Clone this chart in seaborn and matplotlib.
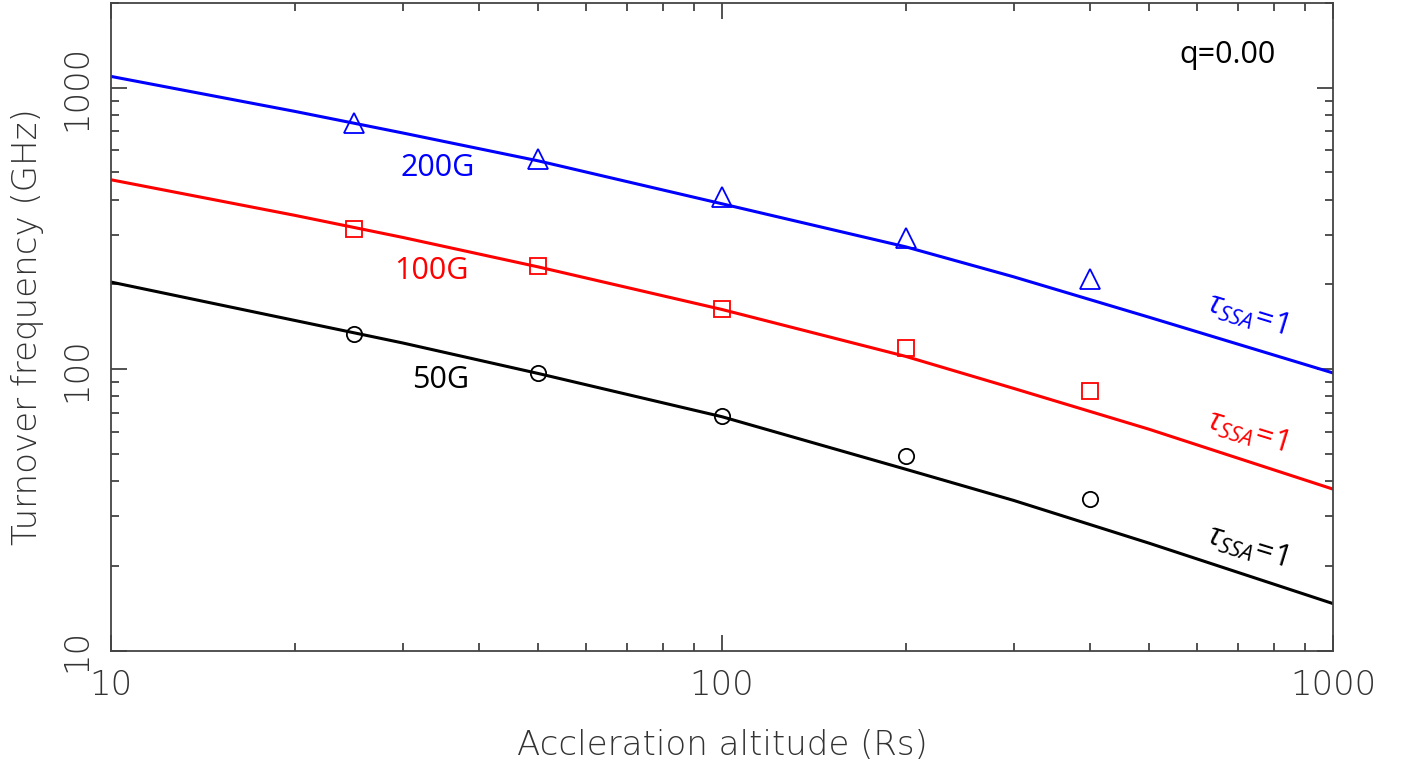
import numpy as np
import pandas as pd
import matplotlib
matplotlib.use("Agg")
import matplotlib.pyplot as plt
import matplotlib.ticker as mticker
import seaborn as sns

# ---- data ----
x_line = [10, 20, 30, 50, 100, 200, 300, 500, 1000]
line_200G = [1097, 824, 691, 550, 387, 272, 213, 153, 97]
line_100G = [471, 352, 294, 231, 163, 111, 85.5, 61.2, 37.5]
line_50G = [204, 149, 124, 96.6, 67.8, 44.1, 34.2, 24.1, 14.7]

x_pts = [25, 50, 100, 200, 400]
pts_200G = [752, 560, 408, 293, 210]
pts_100G = [315, 232, 164, 119, 84]
pts_50G = [133, 97.3, 68.1, 49.2, 34.6]

field_labels = ["200G", "100G", "50G"]
colors = ["#0000FF", "#FF0000", "#000000"]
markers = ["^", "s", "o"]
tick_vals = [10, 100, 1000]
tick_labels = ["10", "100", "1000"]

sns.set_style("ticks")
plt.rcParams["font.family"] = ["DejaVu Sans"]
plt.rcParams["mathtext.fontset"] = "custom"
plt.rcParams["mathtext.it"] = "Open Sans:italic"
plt.rcParams["mathtext.rm"] = "Open Sans"

lines_df = pd.concat([
    pd.DataFrame({"x": x_line, "y": v, "B": lab})
    for v, lab in zip([line_200G, line_100G, line_50G], field_labels)
])
pts_df = pd.concat([
    pd.DataFrame({"x": x_pts, "y": v, "B": lab})
    for v, lab in zip([pts_200G, pts_100G, pts_50G], field_labels)
])
palette = dict(zip(field_labels, colors))

fig = plt.figure(figsize=(14.02, 7.75), dpi=100)
ax = fig.add_axes([111 / 1402, (775 - 650.7) / 775, 1222 / 1402, 647.7 / 775])
ax.set_xscale("log")
ax.set_yscale("log")

sns.lineplot(data=lines_df, x="x", y="y", hue="B", palette=palette,
             linewidth=2.2, legend=False, ax=ax, sort=False, estimator=None)
for lab, mk in zip(field_labels, markers):
    sub = pts_df[pts_df["B"] == lab]
    ms = {"^": 15, "s": 12, "o": 11}[mk]
    ax.plot(sub["x"], sub["y"], linestyle="none", marker=mk, markersize=ms,
            markerfacecolor="none", markeredgecolor=palette[lab],
            markeredgewidth=1.3)

ax.set_xlim(10, 1000)
ax.set_ylim(10, 2000)

for spine in ax.spines.values():
    spine.set_visible(True)
    spine.set_linewidth(1.3)
    spine.set_color("#444444")

ax.xaxis.set_major_locator(mticker.FixedLocator(tick_vals))
ax.yaxis.set_major_locator(mticker.FixedLocator(tick_vals))
ax.xaxis.set_major_formatter(mticker.FixedFormatter(tick_labels))
ax.yaxis.set_major_formatter(mticker.FixedFormatter(tick_labels))
ax.xaxis.set_minor_locator(mticker.LogLocator(base=10, subs=np.arange(2, 10)))
ax.yaxis.set_minor_locator(mticker.LogLocator(base=10, subs=np.arange(2, 10)))
ax.xaxis.set_minor_formatter(mticker.NullFormatter())
ax.yaxis.set_minor_formatter(mticker.NullFormatter())

ax.tick_params(which="both", direction="in", top=True, right=True,
               color="#222222", width=1.1)
ax.tick_params(which="major", length=11.5, pad=13, labelsize=24.5)
ax.tick_params(which="minor", length=5.8)
for t in ax.get_yticklabels():
    t.set_rotation(90)
    t.set_va("center")
for t in ax.get_xticklabels() + ax.get_yticklabels():
    t.set_fontweight("light")
    t.set_color("#333333")

ax.set_xlabel("Accleration altitude (Rs)", fontsize=24.5, fontweight="light",
              color="#333333", va="center")
ax.set_ylabel("Turnover frequency (GHz)", fontsize=24.5, fontweight="light",
              color="#333333", ha="center", va="center")
ax.xaxis.set_label_coords(0.5, -0.146)
ax.yaxis.set_label_coords(-0.068, 0.5)

# curve labels
lab_pos = [(34.2, 517), (33.5, 223), (34.6, 91.4)]
for (tx, ty), lab, c in zip(lab_pos, field_labels, colors):
    ax.text(tx, ty, lab, color=c, fontsize=22, family="Open Sans",
            ha="center", va="center")

tau_pos = [155.5, 59.7, 23.3]
for ty, c in zip(tau_pos, colors):
    ax.text(720, ty, r"$\tau_{SSA}\!=\!1$", color=c, fontsize=22.5,
            rotation=-17, rotation_mode="anchor", ha="center", va="center")

ax.text(673, 1310, "q=0.00", color="black", fontsize=22, family="Open Sans",
        ha="center", va="center")

fig.savefig("out.png", dpi=100)
